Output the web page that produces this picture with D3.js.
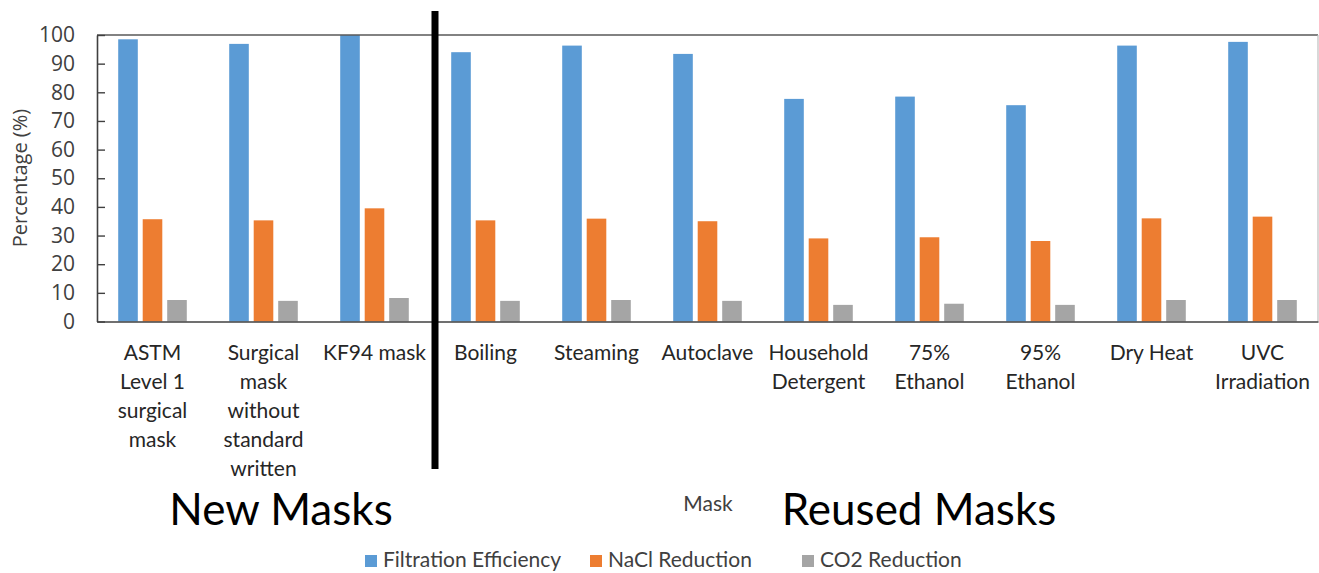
<!DOCTYPE html>
<html>
<head>
<meta charset="utf-8">
<script src="https://cdn.jsdelivr.net/npm/d3@7"></script>
<style>
  html, body { margin: 0; padding: 0; background: #ffffff; }
  svg { display: block; }
</style>
</head>
<body>
<svg id="chart" width="1319" height="573"></svg>
<script>
// Mask categories (line breaks mark how each axis label wraps)
const categories = [
  "ASTM\nLevel 1\nsurgical\nmask",
  "Surgical\nmask\nwithout\nstandard\nwritten",
  "KF94 mask",
  "Boiling",
  "Steaming",
  "Autoclave",
  "Household\nDetergent",
  "75%\nEthanol",
  "95%\nEthanol",
  "Dry Heat",
  "UVC\nIrradiation"
];

const seriesNames = ["Filtration Efficiency", "NaCl Reduction", "CO2 Reduction"];

const filtrationEfficiency = [98.5, 96.9, 100, 94.0, 96.3, 93.4, 77.7, 78.5, 75.5, 96.3, 97.6];
const naclReduction        = [35.7, 35.3, 39.5, 35.3, 35.9, 35.0, 29.0, 29.4, 28.1, 36.0, 36.6];
const co2Reduction         = [7.5, 7.2, 8.2, 7.2, 7.5, 7.2, 5.8, 6.2, 5.8, 7.5, 7.5];

const yTicks = [0, 10, 20, 30, 40, 50, 60, 70, 80, 90, 100];

const groupLabels = ["New Masks", "Reused Masks"];
const axisTitleX = "Mask";
const axisTitleY = "Percentage (%)";

const colors = ["#5B9BD5", "#ED7D31", "#A5A5A5"];

const seriesValues = [filtrationEfficiency, naclReduction, co2Reduction];
const rows = categories.map((c, i) => ({
  category: c,
  values: seriesNames.map((s, k) => ({ series: s, value: seriesValues[k][i] }))
}));

const svg = d3.select("#chart");

const plot = { left: 97, right: 1318, top: 35, bottom: 321.5 };

const x0 = d3.scaleBand()
  .domain(categories)
  .range([plot.left, plot.right])
  .paddingInner(0.338)
  .paddingOuter(0.169);

const x1 = d3.scaleBand()
  .domain(seriesNames)
  .range([0, x0.bandwidth()])
  .paddingInner(0.2)
  .paddingOuter(0.1);

const y = d3.scaleLinear()
  .domain([0, 100])
  .range([plot.bottom, plot.top]);

const color = d3.scaleOrdinal().domain(seriesNames).range(colors);

// Bars
const groups = svg.append("g")
  .selectAll("g")
  .data(rows)
  .join("g")
  .attr("transform", d => `translate(${x0(d.category)},0)`);

groups.selectAll("rect")
  .data(d => d.values)
  .join("rect")
  .attr("x", d => x1(d.series))
  .attr("width", x1.bandwidth())
  .attr("y", d => y(d.value))
  .attr("height", d => y(0) - y(d.value))
  .attr("fill", d => color(d.series));

// Plot frame
svg.append("line")
  .attr("x1", plot.left).attr("x2", plot.right)
  .attr("y1", plot.top).attr("y2", plot.top)
  .attr("stroke", "#595959").attr("stroke-width", 1.6);
svg.append("line")
  .attr("x1", plot.right).attr("x2", plot.right)
  .attr("y1", plot.top).attr("y2", plot.bottom)
  .attr("stroke", "#bfbfbf").attr("stroke-width", 1.2);

// Y axis with inward ticks
const yAxis = svg.append("g")
  .attr("transform", `translate(${plot.left},0)`)
  .call(d3.axisLeft(y).tickValues(yTicks).tickSize(-8).tickSizeOuter(0).tickPadding(22));
yAxis.select(".domain").attr("stroke", "#404040").attr("stroke-width", 1.6);
yAxis.selectAll(".tick line").attr("stroke", "#404040").attr("stroke-width", 1.4);
yAxis.selectAll(".tick text")
  .attr("font-family", "'Open Sans', sans-serif")
  .attr("font-size", 21)
  .attr("fill", "#404040");

// X axis baseline and wrapped category labels
const xAxis = svg.append("g")
  .attr("transform", `translate(0,${plot.bottom})`)
  .call(d3.axisBottom(x0).tickSize(0).tickPadding(0));
xAxis.select(".domain").attr("stroke", "#404040").attr("stroke-width", 1.6);
xAxis.selectAll(".tick text")
  .attr("font-family", "Lato, sans-serif")
  .attr("font-size", 21)
  .attr("fill", "#262626")
  .attr("y", 0)
  .attr("dy", null)
  .each(function(d) {
    const t = d3.select(this);
    t.text(null);
    d.split("\n").forEach((line, i) => {
      t.append("tspan")
        .attr("x", 0)
        .attr("y", 38 + i * 29.2)
        .text(line);
    });
  });

// Divider between new and reused masks
svg.append("rect")
  .attr("x", 431.5).attr("y", 11)
  .attr("width", 7).attr("height", 458)
  .attr("fill", "#000000");

// Y axis title
svg.append("text")
  .attr("transform", `translate(27,178) rotate(-90)`)
  .attr("text-anchor", "middle")
  .attr("font-family", "'Open Sans', sans-serif")
  .attr("font-size", 20)
  .attr("fill", "#404040")
  .text(axisTitleY);

// X axis title
svg.append("text")
  .attr("x", 708).attr("y", 511)
  .attr("text-anchor", "middle")
  .attr("font-family", "Lato, sans-serif")
  .attr("font-size", 21)
  .attr("fill", "#404040")
  .text(axisTitleX);

// Group captions
svg.append("text")
  .attr("x", 281).attr("y", 525)
  .attr("text-anchor", "middle")
  .attr("font-family", "Lato, sans-serif")
  .attr("font-size", 44)
  .attr("fill", "#000000")
  .text(groupLabels[0]);
svg.append("text")
  .attr("x", 919).attr("y", 525)
  .attr("text-anchor", "middle")
  .attr("font-family", "Lato, sans-serif")
  .attr("font-size", 44)
  .attr("fill", "#000000")
  .text(groupLabels[1]);

// Legend
const legendX = [365, 590, 802];
const legend = svg.append("g")
  .selectAll("g")
  .data(seriesNames)
  .join("g")
  .attr("transform", (d, i) => `translate(${legendX[i]},560)`);
legend.append("rect")
  .attr("x", 0).attr("y", -5)
  .attr("width", 12).attr("height", 12)
  .attr("fill", d => color(d));
legend.append("text")
  .attr("x", 18).attr("y", 0)
  .attr("dy", "0.35em")
  .attr("font-family", "Lato, sans-serif")
  .attr("font-size", 21)
  .attr("fill", "#404040")
  .text(d => d);
</script>
</body>
</html>
